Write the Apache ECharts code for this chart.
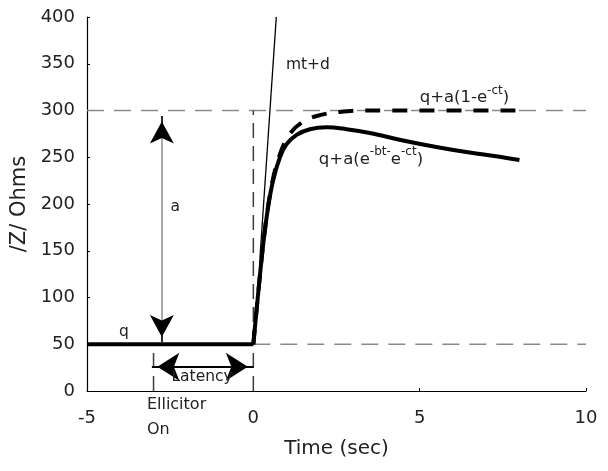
<!DOCTYPE html>
<html><head><meta charset="utf-8">
<script src="https://cdn.jsdelivr.net/npm/echarts@6/dist/echarts.min.js"></script>
<style>html,body{margin:0;padding:0;background:#fff}#c{width:608px;height:471px}</style>
</head><body><div id="c"></div>
<script>
// ---- data ----
const xRange = [-5, 10];
const yRange = [0, 400];
const xStep = 5;
const yStep = 50;
const baselinePart = [[-5, 50], [0, 50]];
const responseCurve = [[0, 50], [0.15, 106], [0.3, 158], [0.45, 198], [0.6, 226], [0.8, 250], [1.0, 264], [1.3, 274], [1.7, 280], [2.2, 282], [2.8, 280], [3.5, 276], [4.5, 268], [5.5, 261], [6.5, 255], [7.3, 251], [8, 247]];
const fitCurve = [[0, 50], [0.15, 106], [0.3, 158], [0.5, 210], [0.75, 248], [1.1, 275], [1.5, 288], [2.0, 295], [2.6, 298.5], [3.3, 300], [8, 300]];
const tangentLine = [[0.2, 143], [0.69, 400]];
const plateauRef = [[-5, 300], [10, 300]];
const baselineRef = [[0, 50], [10, 50]];
const onsetMark = [[0, 0], [0, 300]];
const elicitorMark = [[-3, 0], [-3, 50]];
const ampArrowX = -2.75;
const ampArrowY = [52, 294];
const latencyArrowY = 26;
const latencyArrowX = [-3.05, 0];
const annoText = ['q', 'a', 'Latency', 'mt+d', 'q+a(1-e{s|-ct}{n|)}', 'q+a(e{s|-bt-}{n|e}{s|-ct}{n|)}', 'Ellicitor', 'On'];
const annoX = [-3.89, -2.35, -1.54, 0.98, 5.0, 1.97, -3.2, -3.2];
const annoY = [63, 197, 15, 349, 316, 250, -15, -42];
const annoAlign = ['center', 'center', 'center', 'left', 'left', 'left', 'left', 'left'];

const FONT = 'DejaVu Sans';
const TXT = '#222222';

function lineSeries(data, style, extra) {
  return Object.assign({
    type: 'line', data: data, symbol: 'none', silent: true,
    lineStyle: style, animation: false, z: 2
  }, extra || {});
}

const headLen = 22;
const headOff = headLen / 4;
const arrowLines = {
  type: 'line', data: [], silent: true, animation: false, z: 5,
  markLine: {
    silent: true, animation: false,
    symbol: ['none', 'none'],
    label: { show: false },
    emphasis: { disabled: true },
    data: [
      [{ coord: [ampArrowX, ampArrowY[0]], lineStyle: { color: '#8c8c8c', width: 1.5, type: 'solid' } },
       { coord: [ampArrowX, ampArrowY[1]] }],
      [{ coord: [ampArrowX, ampArrowY[1] - 8], lineStyle: { color: '#000', width: 1.5, type: 'solid' } },
       { coord: [ampArrowX, ampArrowY[1]], symbol: 'arrow', symbolSize: [18, headLen], symbolOffset: [0, headOff] }],
      [{ coord: [ampArrowX, ampArrowY[0] + 8], lineStyle: { color: '#000', width: 1.5, type: 'solid' } },
       { coord: [ampArrowX, ampArrowY[0]], symbol: 'arrow', symbolSize: [18, headLen], symbolOffset: [0, headOff] }],
      [{ coord: [latencyArrowX[0], latencyArrowY], symbol: 'arrow', symbolSize: [21, headLen], symbolOffset: [0, headOff], lineStyle: { color: '#000', width: 2, type: 'solid' } },
       { coord: [latencyArrowX[1], latencyArrowY], symbol: 'arrow', symbolSize: [21, headLen], symbolOffset: [0, headOff] }]
    ]
  }
};

const annoData = annoText.map((t, i) => ({
  value: [annoX[i], annoY[i]],
  label: {
    show: true,
    position: annoAlign[i] === 'left' ? 'right' : 'inside',
    distance: 0,
    formatter: t.indexOf('{') >= 0 ? '{n|' + t.replace(/^([^{]*)/, '$1}') : t,
    fontFamily: FONT, fontSize: (i >= 6 ? 16 : 15.5), color: TXT, opacity: 1,
    rich: {
      n: { fontFamily: FONT, fontSize: 16.5, color: TXT, verticalAlign: 'bottom', lineHeight: 22 },
      s: { fontFamily: FONT, fontSize: 12, color: TXT, verticalAlign: 'top', lineHeight: 22 }
    }
  }
}));

const option = {
  backgroundColor: '#fff',
  animation: false,
  grid: { left: 87, right: 22, top: 17, bottom: 80 },
  xAxis: {
    type: 'value', min: xRange[0], max: xRange[1], interval: xStep,
    name: 'Time (sec)', nameLocation: 'middle', nameGap: 48,
    nameTextStyle: { fontFamily: FONT, fontSize: 20, color: TXT },
    axisLine: { show: true, onZero: false, lineStyle: { color: '#000', width: 1.2 } },
    axisTick: { show: true, inside: true, length: 3, lineStyle: { color: '#000' } },
    axisLabel: { fontFamily: FONT, fontSize: 18, color: TXT, margin: 18 },
    splitLine: { show: false }
  },
  yAxis: {
    type: 'value', min: yRange[0], max: yRange[1], interval: yStep,
    name: '/Z/ Ohms', nameLocation: 'middle', nameGap: 57, nameRotate: 90,
    nameTextStyle: { fontFamily: FONT, fontSize: 21, color: TXT },
    axisLine: { show: true, onZero: false, lineStyle: { color: '#000', width: 1.2 } },
    axisTick: { show: true, inside: true, length: 3, lineStyle: { color: '#000' } },
    axisLabel: { fontFamily: FONT, fontSize: 18, color: TXT, margin: 12 },
    splitLine: { show: false }
  },
  series: [
    lineSeries(plateauRef, { color: '#8a8a8a', width: 1.4, type: [17, 10] }),
    lineSeries(baselineRef, { color: '#8a8a8a', width: 1.4, type: [17, 10] }),
    lineSeries(onsetMark, { color: '#3c3c3c', width: 1.5, type: [15, 8] }),
    lineSeries(elicitorMark, { color: '#3c3c3c', width: 1.5, type: [15, 8] }),
    lineSeries(tangentLine, { color: '#000', width: 1.3 }, { z: 3 }),
    lineSeries(baselinePart, { color: '#000', width: 4, cap: 'butt' }, { z: 4 }),
    lineSeries(responseCurve, { color: '#000', width: 4, join: 'round' }, { z: 4, smooth: 0.4 }),
    lineSeries(fitCurve, { color: '#000', width: 4, type: [15, 12] }, { z: 4, smooth: 0.4 }),
    arrowLines,
    {
      type: 'scatter', data: annoData, symbolSize: 0, silent: true, animation: false, clip: false, z: 10,
      itemStyle: { color: 'transparent', opacity: 1 }
    }
  ]
};

const chart = echarts.init(document.getElementById('c'), null, { renderer: 'canvas' });
chart.setOption(option);
</script>
</body></html>
